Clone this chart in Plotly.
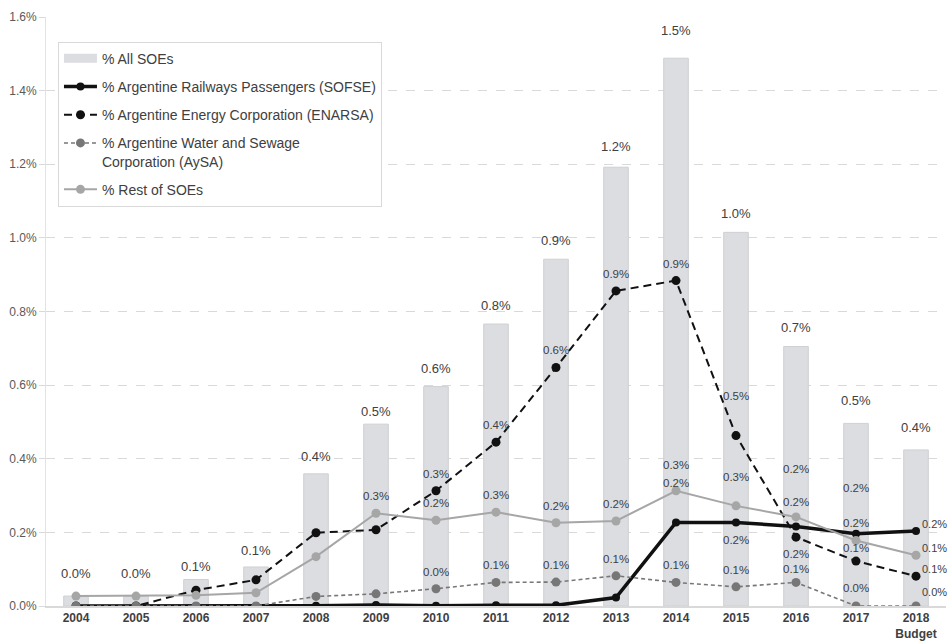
import plotly.graph_objects as go

# ---------------- data ----------------
years = ["2004", "2005", "2006", "2007", "2008", "2009", "2010", "2011",
         "2012", "2013", "2014", "2015", "2016", "2017", "2018"]
tick_labels = ["2004", "2005", "2006", "2007", "2008", "2009", "2010", "2011",
               "2012", "2013", "2014", "2015", "2016", "2017", "2018<br>Budget"]

all_soes = [0.027, 0.026, 0.072, 0.106, 0.359, 0.494, 0.596, 0.766,
            0.942, 1.192, 1.488, 1.015, 0.705, 0.496, 0.424]
sofse = [0.0, 0.0, 0.0, 0.0, 0.001, 0.003, 0.001, 0.002,
         0.002, 0.023, 0.227, 0.227, 0.216, 0.196, 0.204]
enarsa = [0.0, 0.0, 0.043, 0.071, 0.199, 0.207, 0.313, 0.445,
          0.648, 0.856, 0.884, 0.463, 0.187, 0.122, 0.081]
aysa = [0.0, 0.0, 0.0, 0.0, 0.026, 0.033, 0.047, 0.064,
        0.065, 0.082, 0.064, 0.052, 0.064, 0.0, 0.0]
rest = [0.027, 0.027, 0.029, 0.036, 0.134, 0.252, 0.233, 0.255,
        0.226, 0.231, 0.313, 0.272, 0.242, 0.178, 0.138]

names = ["% All SOEs",
         "% Argentine Railways Passengers (SOFSE)",
         "% Argentine Energy Corporation (ENARSA)",
         "% Argentine Water and Sewage<br>Corporation (AySA)",
         "% Rest of SOEs"]

y_ticks = [0.0, 0.2, 0.4, 0.6, 0.8, 1.0, 1.2, 1.4, 1.6]

# ---------------- label placement (pixel offsets, style only) ----------------
bar_label_shift = [23, 23, 13, 16, 17, 13, 18, 19, 19, 21, 28, 19, 19, 23, 22]
# index -> (dx, dy, anchor)
sofse_lbl = {10: (0, 39, "center"), 11: (0, -18, "center"), 12: (0, 57, "center"),
             13: (0, 46, "center"), 14: (4, 7, "left")}
enarsa_lbl = {6: (0, 17, "center"), 7: (0, 17, "center"), 8: (0, 17, "center"),
              9: (0, 17, "center"), 10: (0, 17, "center"), 11: (0, 40, "center"),
              12: (0, -17, "center"), 13: (0, 13, "center"), 14: (4, 7, "left")}
aysa_lbl = {6: (0, 17, "center"), 7: (0, 17, "center"), 8: (0, 17, "center"),
            9: (0, 17, "center"), 10: (0, 17, "center"), 11: (0, 17, "center"),
            12: (0, 13, "center"), 13: (0, 18, "center"), 14: (4, 14, "left")}
rest_lbl = {5: (0, 17, "center"), 6: (0, 17, "center"), 7: (0, 17, "center"),
            8: (0, 17, "center"), 9: (0, 17, "center"), 10: (0, 26, "center"),
            11: (0, 29, "center"), 12: (0, 15, "center"), 13: (0, 17, "center"),
            14: (4, 7, "left")}

FONT = "Arial, 'Liberation Sans', sans-serif"
TXT = "#404040"
BAR_C = "#dcdde0"
REST_C = "#a6a6a6"
AYSA_C = "#777777"

fig = go.Figure()

fig.add_trace(go.Bar(
    x=years, y=all_soes, width=0.41,
    marker=dict(color=BAR_C, line=dict(color="#cfd0d3", width=1)),
    showlegend=False, hoverinfo="skip"))

# legend entry for bars (wide swatch)
fig.add_trace(go.Scatter(
    x=[None], y=[None], mode="lines", name=names[0],
    line=dict(color=BAR_C, width=9), legendgroup="g0"))

fig.add_trace(go.Scatter(
    x=years, y=sofse, mode="lines+markers", name=names[1], legendgroup="g1",
    line=dict(color="#111111", width=3.5),
    marker=dict(color="#111111", size=8)))

fig.add_trace(go.Scatter(
    x=years, y=enarsa, mode="lines+markers", name=names[2], legendgroup="g2",
    line=dict(color="#111111", width=2, dash="8px,5px"),
    marker=dict(color="#111111", size=9)))

fig.add_trace(go.Scatter(
    x=years, y=aysa, mode="lines+markers", name=names[3], legendgroup="g3",
    line=dict(color=AYSA_C, width=1.6, dash="4px,3px"),
    marker=dict(color=AYSA_C, size=9)))

fig.add_trace(go.Scatter(
    x=years, y=rest, mode="lines+markers", name=names[4], legendgroup="g4",
    line=dict(color=REST_C, width=2),
    marker=dict(color=REST_C, size=9)))

annotations = []
for i, v in enumerate(all_soes):
    annotations.append(dict(
        x=i, y=v, xref="x", yref="y", text=f"{v:.1f}%", showarrow=False,
        yshift=bar_label_shift[i], xanchor="center", yanchor="middle",
        font=dict(family=FONT, size=13, color=TXT)))

for vals, lbl in [(sofse, sofse_lbl), (enarsa, enarsa_lbl),
                  (aysa, aysa_lbl), (rest, rest_lbl)]:
    for i, (dx, dy, anc) in lbl.items():
        v = vals[i]
        annotations.append(dict(
            x=i, y=v, xref="x", yref="y", text=f"{v:.1f}%",
            showarrow=False, xshift=dx, yshift=dy, xanchor=anc,
            yanchor="middle",
            font=dict(family=FONT, size=11 if anc == "left" else 11.5,
                      color=TXT)))

fig.update_layout(
    width=949, height=644,
    margin=dict(l=46, r=3, t=17, b=38),
    paper_bgcolor="white", plot_bgcolor="white",
    font=dict(family=FONT, color=TXT),
    bargap=0.5,
    annotations=annotations,
    legend=dict(
        x=0.0133, y=0.958, xanchor="left", yanchor="top",
        bgcolor="white", bordercolor="#d9d9d9", borderwidth=1,
        font=dict(family=FONT, size=14, color=TXT),
        traceorder="grouped", tracegroupgap=7, valign="top",
        itemwidth=33),
    xaxis=dict(
        type="category", categoryorder="array", categoryarray=years,
        range=[-0.5, 14.5],
        tickvals=years, ticktext=tick_labels,
        tickfont=dict(family=FONT, size=12, color=TXT, weight="bold"),
        showline=True, linecolor="#d9d9d9", linewidth=1.5,
        showgrid=False, ticks="", fixedrange=True),
    yaxis=dict(
        range=[0, 1.6], tickvals=y_ticks,
        ticktext=[f"{t:.1f}%" for t in y_ticks],
        tickfont=dict(family=FONT, size=12, color="#595959"),
        showgrid=True, gridcolor="#d9d9d9", griddash="dash", gridwidth=1,
        showline=True, linecolor="#e3e3e3", linewidth=1,
        ticks="outside", ticklen=6, tickcolor="#d9d9d9",
        zeroline=False, fixedrange=True),
)

fig.write_html("out.html")
